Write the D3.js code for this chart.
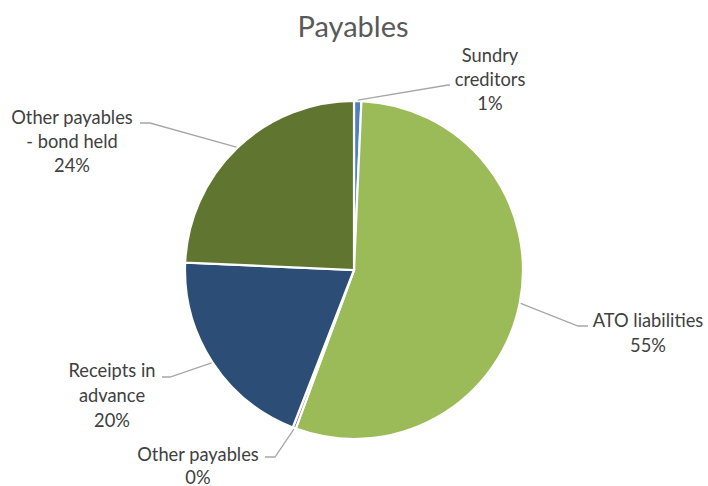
<!DOCTYPE html>
<html><head><meta charset="utf-8">
<script src="https://cdn.jsdelivr.net/npm/d3@7"></script>
<style>body{margin:0;background:#fff}svg{display:block}</style>
</head><body>
<svg id="c" width="708" height="486"></svg>
<script>
const categories = ["Sundry creditors","ATO liabilities","Other payables","Receipts in advance","Other payables - bond held"];
const values = [0.7, 54.9, 0.3, 19.8, 24.3];
const percentLabels = ["1%","55%","0%","20%","24%"];
const colors = ["#4F81BD","#9BBB59","#8064A2","#2C4D75","#5F7530"];
// label text lines (wrapping as in the chart)
const labelLines = [["Sundry","creditors"],["ATO liabilities"],["Other payables"],["Receipts in","advance"],["Other payables","- bond held"]];
// layout: label centre x, first baseline y, line step, elbow point, end point
const labelLayout = [
  {x:490, y:62,  step:24,   elbow:[448,85],  end:[450,85]},
  {x:648, y:327, step:24.5, elbow:[578,326], end:[588,326]},
  {x:198, y:461, step:22.5, elbow:[275,457], end:[265,457]},
  {x:112, y:377, step:25,   elbow:[170,377], end:[162,377]},
  {x:72,  y:124, step:24,   elbow:[150,123], end:[140,123]}
];

const svg = d3.select("#c");
const cx = 354, cy = 270, R = 169;
const font = "Lato, 'Open Sans', sans-serif";

svg.append("text").attr("x",353).attr("y",37).attr("text-anchor","middle")
  .attr("font-family",font).attr("font-size",29).attr("fill","#595959").text("Payables");

const pie = d3.pie().sort(null).value(d=>d)(values);
const arc = d3.arc().innerRadius(0).outerRadius(R);
const g = svg.append("g").attr("transform",`translate(${cx},${cy})`);
g.selectAll("path").data(pie).join("path")
  .attr("d",arc).attr("fill",(d,i)=>colors[i])
  .attr("stroke","#fff").attr("stroke-width",2.2).attr("stroke-linejoin","miter");

// leaders and labels
pie.forEach((d,i)=>{
  const a = (d.startAngle+d.endAngle)/2;
  const r0 = R+1;
  const sx = cx + r0*Math.sin(a), sy = cy - r0*Math.cos(a);
  const L = labelLayout[i];
  svg.append("polyline")
    .attr("points",`${sx},${sy} ${L.elbow[0]},${L.elbow[1]} ${L.end[0]},${L.end[1]}`)
    .attr("fill","none").attr("stroke","#A6A6A6").attr("stroke-width",1.3);
  const t = svg.append("text").attr("text-anchor","middle")
    .attr("font-family",font).attr("font-size",18.3).attr("fill","#404040");
  const lines = labelLines[i].concat([percentLabels[i]]);
  lines.forEach((ln,j)=>{
    t.append("tspan").attr("x",L.x).attr("y",L.y + j*L.step).text(ln);
  });
});
</script>
</body></html>
